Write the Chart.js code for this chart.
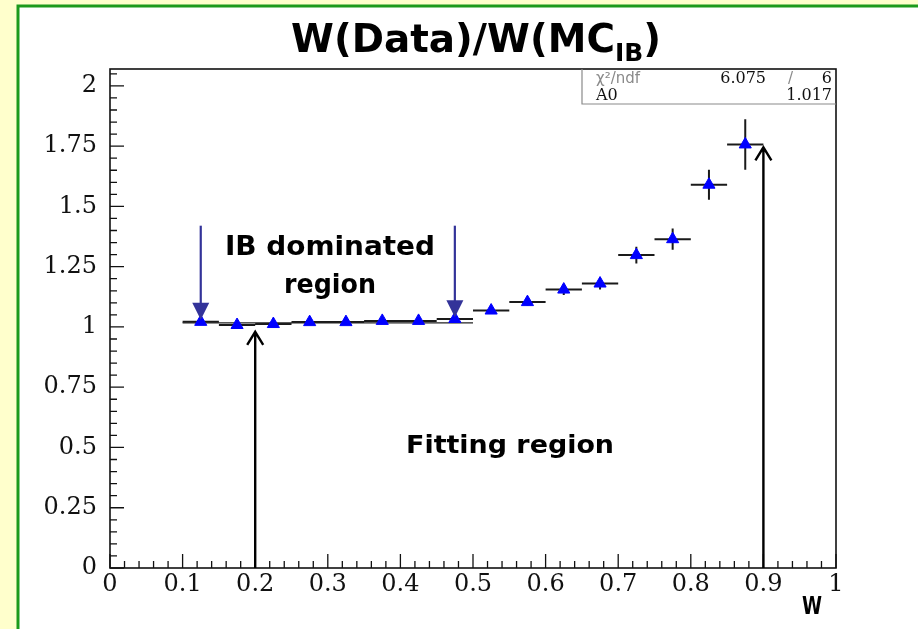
<!DOCTYPE html>
<html>
<head>
<meta charset="utf-8">
<title>W(Data)/W(MC_IB)</title>
<script src="https://cdn.jsdelivr.net/npm/chart.js@4.4.1/dist/chart.umd.min.js"></script>
<style>
  html, body { margin: 0; padding: 0; background: #ffffcc; }
  canvas { display: block; }
</style>
</head>
<body>
<canvas id="chart" width="918" height="629"></canvas>
<script>
// Bin centres in W (bin width 0.05) and the measured ratio W(Data)/W(MC_IB)
const wCenters  = [0.125, 0.175, 0.225, 0.275, 0.325, 0.375, 0.425, 0.475,
                   0.525, 0.575, 0.625, 0.675, 0.725, 0.775, 0.825, 0.875];
const ratio     = [1.021, 1.008, 1.012, 1.020, 1.020, 1.025, 1.025, 1.033,
                   1.068, 1.103, 1.155, 1.180, 1.298, 1.364, 1.590, 1.757];
const ratioErr  = [0.006, 0.006, 0.006, 0.006, 0.007, 0.007, 0.008, 0.009,
                   0.010, 0.014, 0.022, 0.025, 0.035, 0.044, 0.062, 0.105];
const binHalfWidth = 0.025;

// Constant fit (A0) over the IB dominated bins
const fitA0    = 1.017;
const fitRange = [0.1, 0.5];
const statsRows = [
  ['\u03c7\u00b2/ndf', '6.075', '/', '6'],
  ['A0', '1.017']
];

// Axis tick labels
const xTickLabels = ['0', '0.1', '0.2', '0.3', '0.4', '0.5', '0.6', '0.7', '0.8', '0.9', '1'];
const yTickLabels = ['0', '0.25', '0.5', '0.75', '1', '1.25', '1.5', '1.75', '2'];

// Region markers, in data units
const ibArrows  = [ { x: 0.125, from: 1.42, to: 1.03 }, { x: 0.475, from: 1.42, to: 1.04 } ];
const fitArrows = [ { x: 0.2, from: 0, to: 0.98 }, { x: 0.9, from: 0, to: 1.745 } ];

const HAND = "'Comic Sans MS', 'DejaVu Sans', sans-serif";
const SERIF = "'DejaVu Serif', 'Liberation Serif', serif";

// Draw text centred at (cx, baseline) squeezed/stretched to a given width
function fittedText(ctx, text, cx, baseline, font, width) {
  ctx.save();
  ctx.font = font;
  const w = ctx.measureText(text).width;
  const sx = width / w;
  ctx.translate(cx, baseline);
  ctx.scale(sx, 1);
  ctx.textAlign = 'center';
  ctx.textBaseline = 'alphabetic';
  ctx.fillText(text, 0, 0);
  ctx.restore();
}

const pagePlugin = {
  id: 'page',
  beforeDraw(chart) {
    const ctx = chart.ctx;
    ctx.save();
    ctx.fillStyle = '#ffffcc';
    ctx.fillRect(0, 0, chart.width, chart.height);
    ctx.fillStyle = '#ffffff';
    ctx.fillRect(18, 6, chart.width, chart.height);
    ctx.strokeStyle = '#1c9a1c';
    ctx.lineWidth = 3;
    ctx.beginPath();
    ctx.moveTo(18, chart.height + 5);
    ctx.lineTo(18, 6);
    ctx.lineTo(chart.width + 5, 6);
    ctx.stroke();
    ctx.restore();
  }
};

const errorBarPlugin = {
  id: 'errorBars',
  beforeDatasetsDraw(chart) {
    const { ctx, scales: { x, y } } = chart;
    ctx.save();
    ctx.strokeStyle = '#1a1a1a';
    ctx.lineWidth = 2;
    ctx.beginPath();
    wCenters.forEach((w, i) => {
      const px = x.getPixelForValue(w);
      const py = y.getPixelForValue(ratio[i]);
      ctx.moveTo(x.getPixelForValue(w - binHalfWidth), py);
      ctx.lineTo(x.getPixelForValue(w + binHalfWidth), py);
      ctx.moveTo(px, y.getPixelForValue(ratio[i] - ratioErr[i]));
      ctx.lineTo(px, y.getPixelForValue(ratio[i] + ratioErr[i]));
    });
    ctx.stroke();
    ctx.restore();
  }
};

const decorPlugin = {
  id: 'decor',
  afterDatasetsDraw(chart) {
    const { ctx, chartArea: a, scales: { x, y } } = chart;
    ctx.save();

    // frame
    ctx.strokeStyle = '#111';
    ctx.lineWidth = 1.6;
    ctx.strokeRect(a.left, a.top, a.right - a.left, a.bottom - a.top);

    // inward ticks
    ctx.lineWidth = 1.3;
    ctx.beginPath();
    for (let i = 0; i <= 50; i++) {
      const px = x.getPixelForValue(i * 0.02);
      const len = i % 5 === 0 ? 14 : 7;
      ctx.moveTo(px, a.bottom);
      ctx.lineTo(px, a.bottom - len);
    }
    for (let i = 0; i * 0.05 <= y.max + 1e-9; i++) {
      const py = y.getPixelForValue(i * 0.05);
      const len = i % 5 === 0 ? 14 : 7;
      ctx.moveTo(a.left, py);
      ctx.lineTo(a.left + len, py);
    }
    ctx.stroke();

    // fit-range arrows (open heads)
    ctx.strokeStyle = '#000';
    ctx.lineWidth = 2.4;
    fitArrows.forEach(ar => {
      const px = x.getPixelForValue(ar.x);
      const p0 = y.getPixelForValue(ar.from);
      const p1 = y.getPixelForValue(ar.to);
      ctx.beginPath();
      ctx.moveTo(px, p0);
      ctx.lineTo(px, p1);
      ctx.moveTo(px - 8, p1 + 13);
      ctx.lineTo(px, p1);
      ctx.lineTo(px + 8, p1 + 13);
      ctx.stroke();
    });

    // IB region arrows (filled heads)
    ctx.strokeStyle = '#333399';
    ctx.fillStyle = '#333399';
    ctx.lineWidth = 2.2;
    ibArrows.forEach(ar => {
      const px = x.getPixelForValue(ar.x);
      const p0 = y.getPixelForValue(ar.from);
      const p1 = y.getPixelForValue(ar.to);
      ctx.beginPath();
      ctx.moveTo(px, p0);
      ctx.lineTo(px, p1 - 12);
      ctx.stroke();
      ctx.beginPath();
      ctx.moveTo(px - 8.5, p1 - 17);
      ctx.lineTo(px + 8.5, p1 - 17);
      ctx.lineTo(px, p1);
      ctx.closePath();
      ctx.fill();
    });

    // statistics box
    const bx0 = 582, by0 = a.top, bx1 = a.right, by1 = a.top + 35;
    ctx.strokeStyle = '#8a8a8a';
    ctx.lineWidth = 1.2;
    ctx.beginPath();
    ctx.moveTo(bx0, by0);
    ctx.lineTo(bx0, by1);
    ctx.lineTo(bx1, by1);
    ctx.stroke();
    ctx.textBaseline = 'alphabetic';
    ctx.fillStyle = '#8a8a8a';
    ctx.font = "15px 'DejaVu Sans', sans-serif";
    ctx.textAlign = 'left';
    ctx.fillText(statsRows[0][0], bx0 + 14, by0 + 14);
    ctx.fillText(statsRows[0][2], 788, by0 + 14);
    ctx.fillStyle = '#111';
    ctx.font = "16px " + SERIF;
    ctx.textAlign = 'right';
    ctx.fillText(statsRows[0][1], 766, by0 + 14);
    ctx.fillText(statsRows[0][3], bx1 - 4, by0 + 14);
    ctx.textAlign = 'left';
    ctx.fillText(statsRows[1][0], bx0 + 14, by0 + 31);
    ctx.textAlign = 'right';
    ctx.fillText(statsRows[1][1], bx1 - 4, by0 + 31);

    // region annotations
    ctx.fillStyle = '#000';
    fittedText(ctx, 'IB dominated', x.getPixelForValue(0.303), y.getPixelForValue(1.30),
               "bold 26px " + HAND, 210);
    fittedText(ctx, 'region', x.getPixelForValue(0.303), y.getPixelForValue(1.14),
               "bold 26px " + HAND, 92);
    fittedText(ctx, 'Fitting region', x.getPixelForValue(0.551), y.getPixelForValue(0.478),
               "bold 25px " + HAND, 208);
    fittedText(ctx, 'W', 812, 614, "bold 24px " + HAND, 20);

    // title with subscript
    const mainFont = "bold 39px " + HAND;
    const subFont = "bold 25px " + HAND;
    ctx.font = mainFont;
    const w1 = ctx.measureText('W(Data)/W(MC').width;
    const w3 = ctx.measureText(')').width;
    ctx.font = subFont;
    const w2 = ctx.measureText('IB').width;
    const total = w1 + w2 + w3;
    const sx = 370 / total;
    ctx.save();
    ctx.translate(291, 52);
    ctx.scale(sx, 1);
    ctx.textAlign = 'left';
    ctx.font = mainFont;
    ctx.fillText('W(Data)/W(MC', 0, 0);
    ctx.font = subFont;
    ctx.fillText('IB', w1, 9);
    ctx.font = mainFont;
    ctx.fillText(')', w1 + w2, 0);
    ctx.restore();

    ctx.restore();
  }
};

const tickFont = { family: SERIF, size: 24 };

new Chart(document.getElementById('chart'), {
  type: 'scatter',
  data: {
    datasets: [
      {
        label: 'Constant fit',
        type: 'line',
        data: fitRange.map(v => ({ x: v, y: fitA0 })),
        borderColor: '#222',
        borderWidth: 1.3,
        pointRadius: 0,
        fill: false,
        order: 2
      },
      {
        label: 'W(Data)/W(MC_IB)',
        data: wCenters.map((w, i) => ({ x: w, y: ratio[i] })),
        pointStyle: 'triangle',
        pointRadius: 7,
        backgroundColor: '#0000ff',
        borderColor: '#0000ff',
        borderWidth: 1,
        order: 1
      }
    ]
  },
  options: {
    responsive: false,
    animation: false,
    devicePixelRatio: 1,
    layout: { padding: { top: 69, right: 82, left: 0, bottom: 0 } },
    plugins: { legend: { display: false }, tooltip: { enabled: false }, title: { display: false } },
    scales: {
      x: {
        type: 'linear',
        min: 0, max: 1,
        grid: { display: false, drawTicks: false },
        border: { display: false },
        ticks: {
          stepSize: 0.1,
          includeBounds: false,
          autoSkip: false,
          maxRotation: 0,
          padding: 2,
          color: '#111',
          font: tickFont,
          callback: (v) => xTickLabels[Math.round(v * 10)]
        },
        afterFit: (s) => { s.height = 61; }
      },
      y: {
        type: 'linear',
        min: 0, max: 2.07,
        grid: { display: false, drawTicks: false },
        border: { display: false },
        ticks: {
          stepSize: 0.25,
          includeBounds: false,
          autoSkip: false,
          padding: 13,
          color: '#111',
          font: tickFont,
          callback: (v) => yTickLabels[Math.round(v * 4)]
        },
        afterFit: (s) => { s.width = 110; }
      }
    }
  },
  plugins: [pagePlugin, errorBarPlugin, decorPlugin]
});
</script>
</body>
</html>
